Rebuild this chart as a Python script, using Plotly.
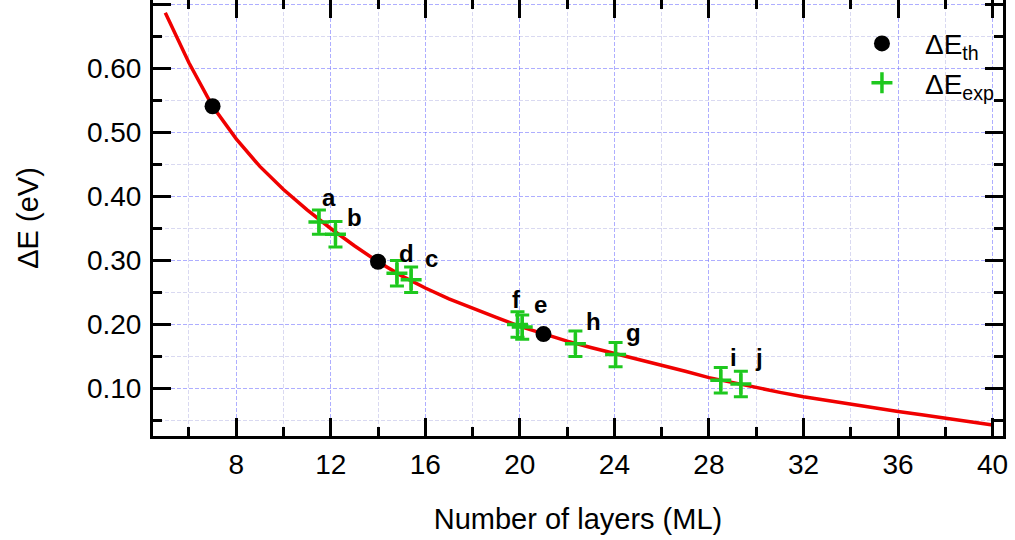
import plotly.graph_objects as go

# Model curve: energy splitting vs. film thickness
n_layers = list(range(5, 41))
delta_e_model = [0.687, 0.609, 0.541, 0.490, 0.447, 0.411, 0.379, 0.350, 0.323, 0.298,
                 0.276, 0.257, 0.240, 0.225, 0.211, 0.197, 0.185, 0.174, 0.164, 0.155,
                 0.145, 0.136, 0.127, 0.117, 0.109, 0.101, 0.094, 0.087, 0.081, 0.075,
                 0.069, 0.064, 0.059, 0.054, 0.048, 0.043]

# Calculated values
th_layers = [7, 14, 21]
th_delta_e = [0.541, 0.298, 0.185]

# Measured values with uncertainty
exp_labels = ["a", "b", "d", "c", "f", "e", "h", "g", "i", "j"]
exp_layers = [11.5, 12.2, 14.8, 15.4, 19.9, 20.1, 22.35, 24.05, 28.5, 29.35]
exp_delta_e = [0.360, 0.341, 0.280, 0.270, 0.200, 0.196, 0.170, 0.153, 0.113, 0.107]
exp_err = [0.019, 0.020, 0.020, 0.020, 0.020, 0.019, 0.020, 0.019, 0.020, 0.020]

# Pixel offsets of the point labels (x right, y up)
label_dx = [10, 19, 10, 20, -1, 18, 18, 18, 13, 18]
label_dy = [25, 17, 20, 21, 25, 23, 22, 22, 23, 27]

GREEN = "rgb(30,200,30)"
FONT = "Liberation Sans, Arial, sans-serif"

fig = go.Figure()

fig.add_trace(go.Scatter(
    x=n_layers, y=delta_e_model, mode="lines",
    line=dict(color="#f00000", width=3.5),
    showlegend=False, hoverinfo="skip",
))

fig.add_trace(go.Scatter(
    x=exp_layers, y=exp_delta_e, mode="markers",
    name="ΔE<sub>exp</sub>",
    marker=dict(symbol="cross-thin", size=15, line=dict(color=GREEN, width=3.5), color=GREEN),
    error_y=dict(type="data", array=exp_err, visible=True, color=GREEN, thickness=3, width=7),
))

fig.add_trace(go.Scatter(
    x=th_layers, y=th_delta_e, mode="markers",
    name="ΔE<sub>th</sub>",
    marker=dict(symbol="circle", size=16, color="black"),
))

for lab, xv, yv, dx, dy in zip(exp_labels, exp_layers, exp_delta_e, label_dx, label_dy):
    fig.add_annotation(
        x=xv, y=yv, text=f"<b>{lab}</b>", showarrow=False,
        xshift=dx, yshift=dy, xanchor="center", yanchor="middle",
        font=dict(family=FONT, size=24, color="black"),
    )

grid_major = "rgba(120,120,255,0.6)"
grid_minor = "rgba(170,170,225,0.45)"

axis_common = dict(
    showline=True, linecolor="black", linewidth=3, mirror="allticks",
    ticks="inside", ticklen=18, tickwidth=3, tickcolor="black",
    showgrid=True, gridcolor=grid_major, gridwidth=1, griddash="4px,2px",
    zeroline=False,
    tickfont=dict(family=FONT, size=28, color="black"),
    title_font=dict(family=FONT, size=29, color="black"),
)

fig.update_xaxes(
    **axis_common,
    range=[4.48, 40.44], tick0=0, dtick=4,
    minor=dict(dtick=2, ticklen=9, tickwidth=3, tickcolor="black", ticks="inside",
               showgrid=True, gridcolor=grid_minor, griddash="4px,2px", gridwidth=1),
    title=dict(text="Number of layers (ML)", standoff=31),
    ticklabelstandoff=1,
)
fig.update_yaxes(
    **axis_common,
    range=[0.0258, 0.707], tick0=0, dtick=0.1, tickformat=".2f",
    minor=dict(dtick=0.05, ticklen=9, tickwidth=3, tickcolor="black", ticks="inside",
               showgrid=True, gridcolor=grid_minor, griddash="4px,2px", gridwidth=1),
    title=dict(text="ΔE (eV)", standoff=40),
    ticklabelstandoff=3,
)

fig.update_layout(
    width=1015, height=540,
    margin=dict(l=153, r=12, t=0, b=104, autoexpand=False),
    plot_bgcolor="white", paper_bgcolor="white",
    font=dict(family=FONT, size=28, color="black"),
    legend=dict(
        x=0.807, y=0.957, xanchor="left", yanchor="top",
        bgcolor="rgba(0,0,0,0)", borderwidth=0,
        itemwidth=76, traceorder="reversed",
        font=dict(family=FONT, size=28, color="black"),
    ),
)

fig.write_html("out.html")
